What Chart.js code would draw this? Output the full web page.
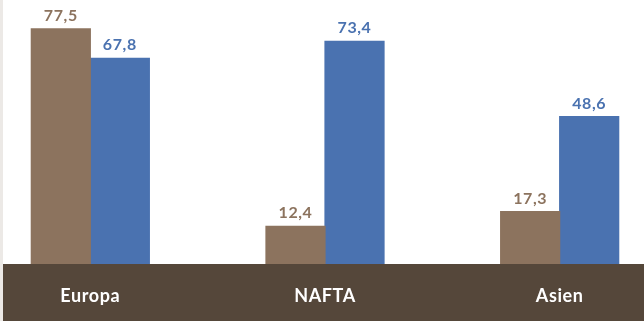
<!DOCTYPE html>
<html>
<head>
<meta charset="utf-8">
<script src="https://cdn.jsdelivr.net/npm/chart.js@4"></script>
<style>
    html, body { margin: 0; padding: 0; background: #fff; overflow: hidden; }
    body { width: 644px; height: 321px; position: relative; }
    #wrap { position: absolute; left: -27px; top: 0; width: 704px; height: 321px; }
</style>
</head>
<body>
<div id="wrap"><canvas id="chart"></canvas></div>
<script>
const categories = ['Europa', 'NAFTA', 'Asien'];
const brownValues = [77.5, 12.4, 17.3];
const blueValues = [67.8, 73.4, 48.6];

const brown = '#8c735e';
const blue = '#4a72b0';
const band = '#55473a';

const fmt = v => v.toFixed(1).replace('.', ',');

// background strip + dark band with category names, value labels on top
const decor = {
    id: 'decor',
    beforeDraw(chart) {
        const { ctx, chartArea, width, height } = chart;
        ctx.save();
        ctx.fillStyle = '#ece9e6';
        ctx.fillRect(27, 0, 3, height);
        ctx.fillStyle = band;
        ctx.fillRect(30, chartArea.bottom, width - 30, height - chartArea.bottom);
        ctx.restore();
    },
    afterDatasetsDraw(chart) {
        const { ctx, chartArea } = chart;
        const x = chart.scales.x;
        ctx.save();
        ctx.textAlign = 'center';
        ctx.textBaseline = 'alphabetic';
        ctx.fillStyle = '#ffffff';
        ctx.font = 'bold 18px Lato';
        ctx.letterSpacing = '0.6px';
        categories.forEach((c, i) => {
            ctx.fillText(c, x.getPixelForValue(i), chartArea.bottom + 38);
        });
        ctx.font = 'bold 16px Lato';
        ctx.letterSpacing = '0.6px';
        chart.data.datasets.forEach((ds, di) => {
            const meta = chart.getDatasetMeta(di);
            ctx.fillStyle = ds.backgroundColor;
            meta.data.forEach((bar, i) => {
                ctx.fillText(fmt(ds.data[i]), bar.x, bar.y - 8);
            });
        });
        ctx.restore();
    }
};

new Chart(document.getElementById('chart').getContext('2d'), {
    type: 'bar',
    data: {
        labels: categories,
        datasets: [
            { data: brownValues, backgroundColor: brown },
            { data: blueValues, backgroundColor: blue }
        ]
    },
    options: {
        responsive: true,
        maintainAspectRatio: false,
        animation: false,
        layout: { padding: { top: 0, bottom: 57, left: 0, right: 0 } },
        datasets: {
            bar: { categoryPercentage: 0.503, barPercentage: 1.0, inflateAmount: 0.6 }
        },
        scales: {
            x: { display: false },
            y: { display: false, min: 0, max: 87 }
        },
        plugins: {
            legend: { display: false },
            tooltip: { enabled: false }
        }
    },
    plugins: [decor]
});
</script>
</body>
</html>
